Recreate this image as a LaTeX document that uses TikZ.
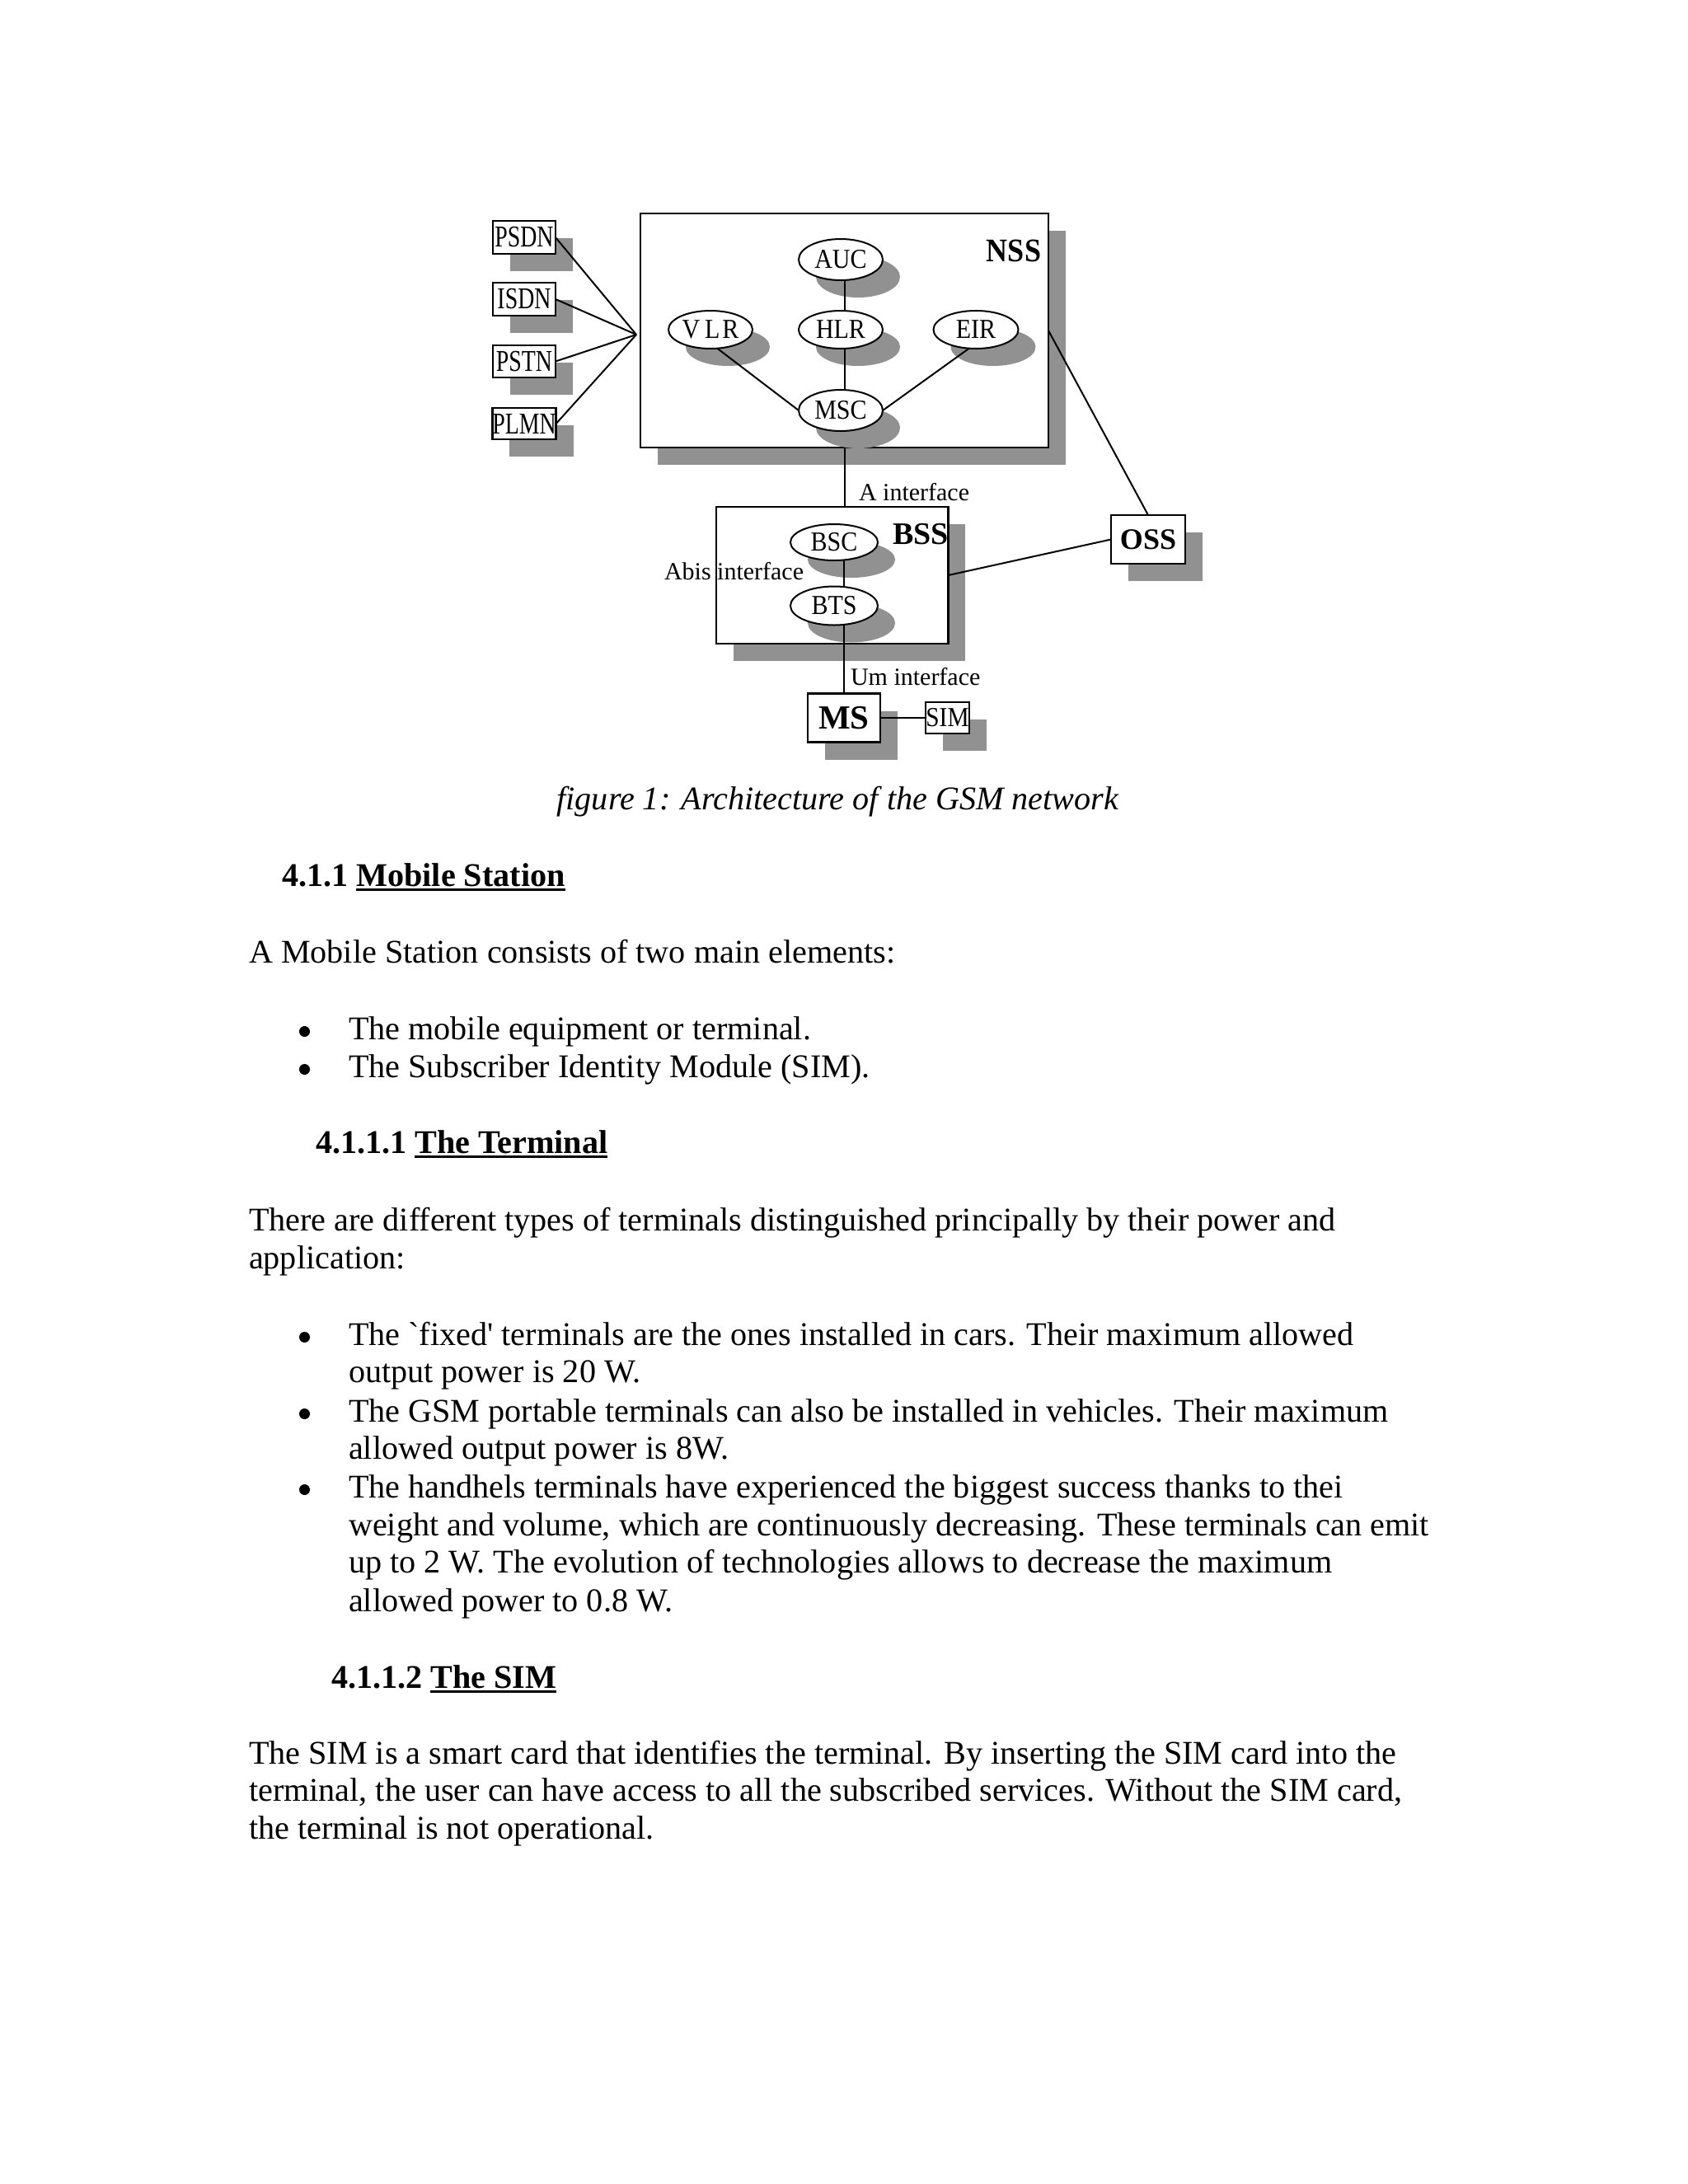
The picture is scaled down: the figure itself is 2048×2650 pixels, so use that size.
\documentclass[tikz,border=0pt]{standalone}
\usepackage{graphicx}
\usepackage{fontspec}
\setmainfont{Liberation Serif}[Ligatures=TeXOff]
\usetikzlibrary{shapes.geometric,shadows,calc}
\definecolor{shgray}{RGB}{145,145,145}
\newcommand{\pxu}{0.3pt}
\newcommand{\bodyfont}{\fontsize{12.05pt}{14pt}\selectfont}
\newcommand{\dgmfont}{\fontsize{9pt}{10pt}\selectfont}
\newcommand{\ovlfont}{\fontsize{10pt}{11pt}\selectfont}
\newcommand{\ovl}[1]{\scalebox{0.9}[1]{#1}}
\newcommand{\boxlbl}[1]{\scalebox{0.76}[1]{\fontsize{11pt}{12pt}\selectfont #1}}
\begin{document}
\begin{tikzpicture}[x=0.3pt,y=-0.3pt,
  every node/.style={inner sep=0pt, outer sep=0pt},
  shad/.style={drop shadow={shadow xshift=6.3pt, shadow yshift=-6.3pt, fill=shgray, opacity=1}},
  boxnode/.style={draw, fill=white, line width=0.8pt, rectangle, shad},
  ovalnode/.style={draw, fill=white, line width=0.6pt, ellipse, shad, minimum width=102*\pxu, minimum height=46*\pxu, font=\ovlfont},
  conn/.style={line width=0.6pt},
  bodytext/.style={anchor=base west, font=\bodyfont},
  headtext/.style={anchor=base west, font=\bodyfont\bfseries},
  bulletdot/.style={circle, fill=black, minimum size=13*\pxu},
  uline/.style={line width=0.75pt},
  dlabel/.style={anchor=base west, font=\dgmfont}
]
\fill[white] (0,0) rectangle (2048,2650);
\useasboundingbox (0,0) rectangle (2048,2650);

% ---------- left network boxes ----------
\node[boxnode, minimum width=76*\pxu, minimum height=40*\pxu] (psdn) at (636,288) {\boxlbl{PSDN}};
\node[boxnode, minimum width=76*\pxu, minimum height=40*\pxu] (isdn) at (636,363) {\boxlbl{ISDN}};
\node[boxnode, minimum width=76*\pxu, minimum height=39*\pxu] (pstn) at (636,438.5) {\boxlbl{PSTN}};
\node[boxnode, minimum width=76*\pxu, minimum height=38*\pxu] (plmn) at (636,514) {\boxlbl{PLMN}};
\coordinate (hub) at (772,406);

% ---------- NSS ----------
\node[boxnode, minimum width=495*\pxu, minimum height=284*\pxu] (nss) at (1024.5,401) {};
\node[font=\fontsize{12pt}{13pt}\selectfont\bfseries] (nsslbl) at (1230,304) {\scalebox{0.9}[1]{NSS}};
\node[ovalnode, minimum height=50*\pxu] (auc) at (1020,315) {\ovl{AUC}};
\node[ovalnode] (vlr) at (862,400) {\ovl{V\kern2pt L\kern1pt R}};
\node[ovalnode] (hlr) at (1020,400) {\ovl{HLR}};
\node[ovalnode, minimum width=103*\pxu] (eir) at (1184,400) {\ovl{EIR}};
\node[ovalnode, minimum height=50*\pxu] (msc) at (1020,498) {\ovl{MSC}};

% ---------- BSS ----------
\node[boxnode, minimum width=281.5*\pxu, minimum height=166*\pxu] (bss) at (1009.7,698) {};
\node[ovalnode, minimum width=106*\pxu, minimum height=44*\pxu] (bsc) at (1012,658) {\ovl{BSC}};
\node[ovalnode, minimum width=106*\pxu, minimum height=47*\pxu] (bts) at (1012,735) {\ovl{BTS}};
\node[font=\fontsize{11.4pt}{12pt}\selectfont\bfseries] (bsslbl) at (1117,648) {BSS};

% ---------- OSS, MS, SIM ----------
\node[boxnode, minimum width=90*\pxu, minimum height=59*\pxu, font=\fontsize{10.8pt}{12pt}\selectfont\bfseries] (oss) at (1393,654.5) {OSS};
\node[boxnode, minimum width=88*\pxu, minimum height=59*\pxu, font=\fontsize{12.3pt}{13pt}\selectfont\bfseries] (ms) at (1024,871) {MS};
\node[boxnode, minimum width=53*\pxu, minimum height=38*\pxu] (sim) at (1149.5,871) {\scalebox{0.88}[1]{\fontsize{10pt}{11pt}\selectfont SIM}};

% ---------- interface labels ----------
\node[dlabel] (alab) at (1042,607) {A interface};
\node[dlabel] (abislab) at (806,703) {Abis interface};
\node[dlabel] (umlab) at (1032,831) {Um interface};

% ---------- connectors ----------
\foreach \n in {psdn,isdn,pstn,plmn} \draw[conn] (\n.east) -- (hub);
\draw[conn] (auc.south -| nss.south) -- (hlr.north -| nss.south);
\draw[conn] (hlr.south -| nss.south) -- (msc.north -| nss.south);
\draw[conn] (vlr.-70) -- (msc.west);
\draw[conn] (eir.-110) -- (msc.east);
\draw[conn] (nss.south) -- (nss.south |- bss.north);
\draw[conn] (nss.east) -- (oss.north);
\draw[conn] (bss.east) -- (oss.west);
\draw[conn] (bsc.south -| ms.north) -- (bts.north -| ms.north);
\draw[conn] (bts.south -| ms.north) -- (ms.north);
\draw[conn] (ms.east) -- (sim.west);

% ---------- caption ----------
\node[anchor=base west, font=\bodyfont\itshape] (caption) at (675.5,982) {figure 1: Architecture of the GSM network};

% ---------- body text ----------
\node[headtext] (h1a) at (342,1075) {4.1.1};
\node[headtext] (h1b) at ($(h1a.base east)+(10,0)$) {Mobile Station};
\draw[uline] ([yshift=-1.3pt]h1b.base west) -- ([yshift=-1.3pt]h1b.base east);

\node[bodytext] (p1) at (302,1168) {A Mobile Station consists of two main elements:};
\node[bulletdot] (bu1) at (369.5,1251.5) {};
\node[bodytext] (l1) at (423,1261) {The mobile equipment or terminal.};
\node[bulletdot] (bu2) at (369.5,1297.5) {};
\node[bodytext] (l2) at (423,1307) {The Subscriber Identity Module (SIM).};

\node[headtext] (h2a) at (383,1399) {4.1.1.1};
\node[headtext] (h2b) at ($(h2a.base east)+(10,0)$) {The Terminal};
\draw[uline] ([yshift=-1.3pt]h2b.base west) -- ([yshift=-1.3pt]h2b.base east);

\node[bodytext] (p2a) at (302,1493) {There are different types of terminals distinguished principally by their power and};
\node[bodytext] (p2b) at (302,1539) {application:};

\node[bulletdot] (bu3) at (369.5,1622.5) {};
\node[bodytext] (t1a) at (423,1632) {The `fixed' terminals are the ones installed in cars. Their maximum allowed};
\node[bodytext] (t1b) at (423,1677) {output power is 20 W.};
\node[bulletdot] (bu4) at (369.5,1715.5) {};
\node[bodytext] (t2a) at (423,1725) {The GSM portable terminals can also be installed in vehicles. Their maximum};
\node[bodytext] (t2b) at (423,1770) {allowed output power is 8W.};
\node[bulletdot] (bu5) at (369.5,1807.5) {};
\node[bodytext] (t3a) at (423,1817) {The handhels terminals have experienced the biggest success thanks to thei};
\node[bodytext] (t3b) at (423,1863) {weight and volume, which are continuously decreasing. These terminals can emit};
\node[bodytext] (t3c) at (423,1908) {up to 2 W. The evolution of technologies allows to decrease the maximum};
\node[bodytext] (t3d) at (423,1955) {allowed power to 0.8 W.};

\node[headtext] (h3a) at (402,2048) {4.1.1.2};
\node[headtext] (h3b) at ($(h3a.base east)+(10,0)$) {The SIM};
\draw[uline] ([yshift=-1.3pt]h3b.base west) -- ([yshift=-1.3pt]h3b.base east);

\node[bodytext] (p3a) at (302,2140) {The SIM is a smart card that identifies the terminal. By inserting the SIM card into the};
\node[bodytext] (p3b) at (302,2185) {terminal, the user can have access to all the subscribed services. Without the SIM card,};
\node[bodytext] (p3c) at (302,2231) {the terminal is not operational.};
\end{tikzpicture}
\end{document}
